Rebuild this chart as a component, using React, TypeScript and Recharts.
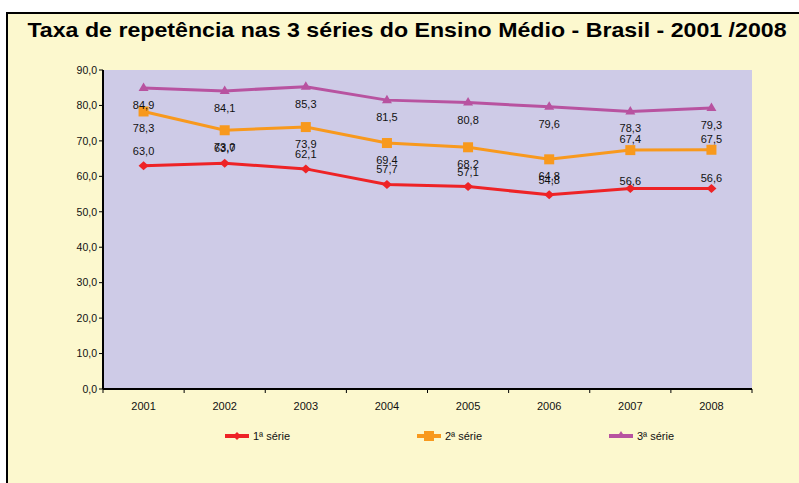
import React from 'react';
import { LineChart, Line, XAxis, YAxis, CartesianGrid, Legend, LabelList } from 'recharts';

const years = ['2001', '2002', '2003', '2004', '2005', '2006', '2007', '2008'];
const serie1 = [63.0, 63.7, 62.1, 57.7, 57.1, 54.8, 56.6, 56.6];
const serie2 = [78.3, 73.0, 73.9, 69.4, 68.2, 64.8, 67.4, 67.5];
const serie3 = [84.9, 84.1, 85.3, 81.5, 80.8, 79.6, 78.3, 79.3];
const yTicks = [0, 10, 20, 30, 40, 50, 60, 70, 80, 90];
const seriesNames = ['1ª série', '2ª série', '3ª série'];
const titleText = 'Taxa de repetência nas 3 séries do Ensino Médio - Brasil - 2001 /2008';

// label placement (vertical offset from the point, px) – layout config, not data
const labelDy1 = [-15, -15, -15, -15, -15, -15, -7, -10];
const labelDy2 = [17, 17, 17, 17, 17, 17, -11, -11];
const labelDy3 = [17, 17, 17, 17, 17, 17, 17, 17];

const COLORS = ['#EE2326', '#F8991D', '#B853A0'];
const FONT = '"Liberation Sans", Arial, sans-serif';
const PLOT_LEFT = 103;
const PLOT_RIGHT = 752;
const BAND = (PLOT_RIGHT - PLOT_LEFT) / years.length;

const data = years.map((y, i) => ({ year: y, s1: serie1[i], s2: serie2[i], s3: serie3[i] }));

const fmt = (v: number) => v.toFixed(1).replace('.', ',');

const Diamond = (props: any) => {
  const { cx, cy, fill } = props;
  if (cx == null || cy == null) return null;
  return <polygon points={`${cx},${cy - 4.5} ${cx + 5},${cy} ${cx},${cy + 4.5} ${cx - 5},${cy}`} fill={fill} />;
};
const Square = (props: any) => {
  const { cx, cy, fill } = props;
  if (cx == null || cy == null) return null;
  return <rect x={cx - 5} y={cy - 5} width={10} height={10} fill={fill} />;
};
const Triangle = (props: any) => {
  const { cx, cy, fill } = props;
  if (cx == null || cy == null) return null;
  return <polygon points={`${cx},${cy - 5.5} ${cx + 5},${cy + 3} ${cx - 5},${cy + 3}`} fill={fill} />;
};

const makeLabel = (dys: number[]) => (props: any) => {
  const { x, y, value, index } = props;
  return (
    <text x={x} y={y + dys[index]} textAnchor="middle" dominantBaseline="central" fontFamily={FONT} fontSize={11} fill="#111">
      {fmt(value)}
    </text>
  );
};

const XTick = (props: any) => {
  const { x, y, payload, index } = props;
  const axisY = y - 6;
  return (
    <g>
      <line x1={x - BAND / 2} x2={x - BAND / 2} y1={axisY} y2={axisY + 4} stroke="#000" strokeWidth={1} />
      {index === years.length - 1 && (
        <line x1={x + BAND / 2} x2={x + BAND / 2} y1={axisY} y2={axisY + 4} stroke="#000" strokeWidth={1} />
      )}
      <text x={x} y={axisY + 17} textAnchor="middle" dominantBaseline="central" fontFamily={FONT} fontSize={11} fill="#111">
        {payload.value}
      </text>
    </g>
  );
};

const legendMarkers = [
  (c: string) => <polygon points="12,2 16,6 12,10 8,6" fill={c} />,
  (c: string) => <rect x={7} y={1} width={10} height={10} fill={c} />,
  (c: string) => <polygon points="12,1 16.5,8 7.5,8" fill={c} />,
];

const LegendContent = () => (
  <div style={{ position: 'relative', width: 799, height: 16 }}>
    {seriesNames.map((n, i) => (
      <div key={n} style={{ position: 'absolute', left: 225 + i * 192, top: 0, display: 'flex', alignItems: 'center', height: 16 }}>
        <svg width={25} height={12} style={{ display: 'block' }}>
          <line x1={0} x2={24} y1={6} y2={6} stroke={COLORS[i]} strokeWidth={4} />
          {legendMarkers[i](COLORS[i])}
        </svg>
        <span style={{ fontFamily: FONT, fontSize: 11, color: '#111', marginLeft: 3, whiteSpace: 'nowrap' }}>{n}</span>
      </div>
    ))}
  </div>
);

export default function App() {
  return (
    <div style={{ position: 'absolute', left: 0, top: 0, width: 799, height: 483, background: '#fff', overflow: 'hidden' }}>
      <div
        style={{
          position: 'absolute', left: 6, top: 12, width: 830, height: 500,
          background: '#FCF8CE', borderTop: '2px solid #000', borderLeft: '2px solid #000',
        }}
      />
      <div
        style={{
          position: 'absolute', left: 6.5, top: 20, width: 800, textAlign: 'center',
          fontFamily: FONT, fontWeight: 'bold', fontSize: 20.5, lineHeight: '20px', color: '#000', whiteSpace: 'nowrap',
          transform: 'scaleX(1.13)', transformOrigin: '400px 50%',
        }}
      >
        {titleText}
      </div>
      <div style={{ position: 'absolute', left: 0, top: 0 }}>
        <LineChart width={799} height={483} data={data} margin={{ top: 70, right: 47, bottom: 64, left: 43 }}>
          <CartesianGrid horizontal={false} vertical={false} fill="#CECBE7" stroke="none" />
          <XAxis
            dataKey="year"
            padding={{ left: BAND / 2, right: BAND / 2 }}
            height={30}
            interval={0}
            tickLine={false}
            tickSize={4}
            tickMargin={2}
            axisLine={{ stroke: '#000', strokeWidth: 2 }}
            tick={<XTick />}
          />
          <XAxis xAxisId="top" dataKey="year" orientation="top" height={0} tick={false} tickLine={false} axisLine={{ stroke: '#8C8C8C', strokeWidth: 3 }} />
          <YAxis
            domain={[0, 90]}
            ticks={yTicks}
            interval={0}
            width={60}
            tickSize={4}
            tickMargin={2}
            tickFormatter={(v: number) => fmt(v)}
            tick={{ fontFamily: FONT, fontSize: 10.5, fill: '#111' }}
            tickLine={{ stroke: '#000', strokeWidth: 1 }}
            axisLine={{ stroke: '#000', strokeWidth: 2 }}
          />
          <YAxis yAxisId="right" orientation="right" domain={[0, 90]} width={0} tick={false} tickLine={false} axisLine={{ stroke: '#8C8C8C', strokeWidth: 3 }} />
          <Legend verticalAlign="middle" align="center" layout="horizontal" content={<LegendContent />} wrapperStyle={{ position: 'absolute', top: 428, left: 0, width: 799 }} />
          <Line dataKey="s1" name={seriesNames[0]} stroke={COLORS[0]} strokeWidth={3} dot={<Diamond fill={COLORS[0]} />} isAnimationActive={false}>
            <LabelList dataKey="s1" content={makeLabel(labelDy1)} />
          </Line>
          <Line dataKey="s2" name={seriesNames[1]} stroke={COLORS[1]} strokeWidth={3} dot={<Square fill={COLORS[1]} />} isAnimationActive={false}>
            <LabelList dataKey="s2" content={makeLabel(labelDy2)} />
          </Line>
          <Line dataKey="s3" name={seriesNames[2]} stroke={COLORS[2]} strokeWidth={3} dot={<Triangle fill={COLORS[2]} />} isAnimationActive={false}>
            <LabelList dataKey="s3" content={makeLabel(labelDy3)} />
          </Line>
        </LineChart>
      </div>
    </div>
  );
}
